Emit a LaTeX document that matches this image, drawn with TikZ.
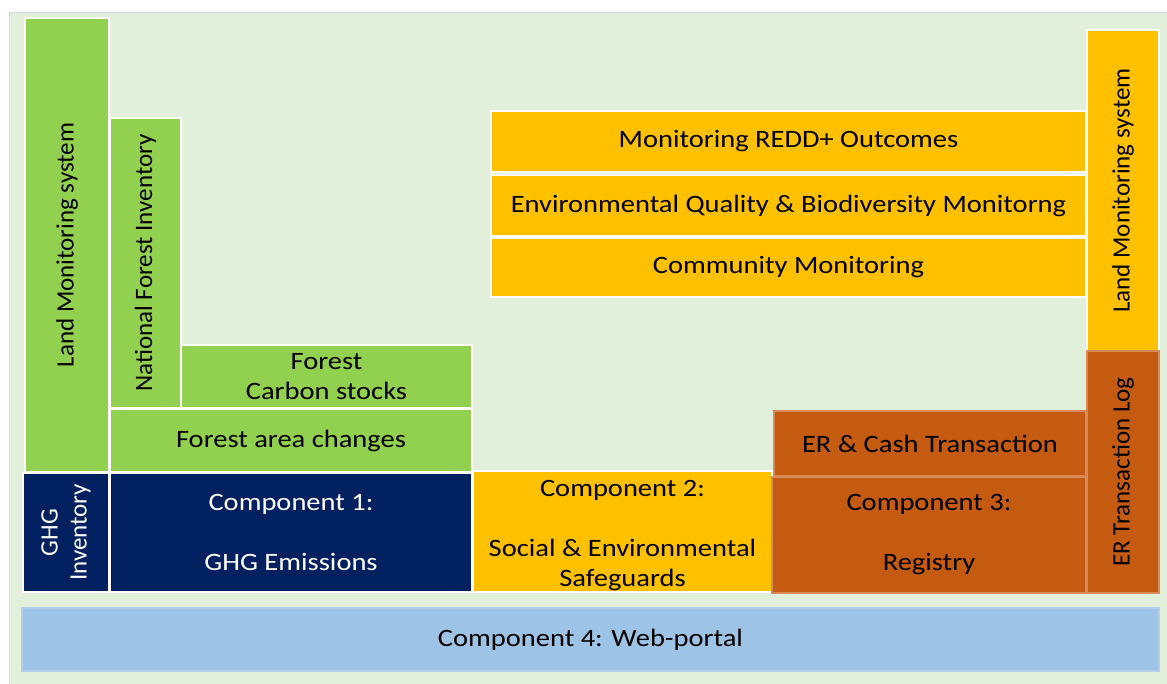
\documentclass[tikz,border=0pt]{standalone}
\usepackage{fontspec}
\setmainfont{Carlito}[FakeStretch=1.14]
\newfontfamily\vertfont{Carlito}
\usetikzlibrary{positioning}
\definecolor{mrvBg}{HTML}{E2EFDA}
\definecolor{mrvGreen}{HTML}{92D050}
\definecolor{mrvNavy}{HTML}{002060}
\definecolor{mrvYellow}{HTML}{FFC000}
\definecolor{mrvOrange}{HTML}{C55A11}
\definecolor{mrvBlue}{HTML}{9DC3E6}
\tikzset{
  boxBase/.style={rectangle, draw=white, line width=1.2pt, align=center,
                  inner sep=0pt, font=\fontsize{25}{30}\selectfont},
  vertText/.style={rotate=90, font=\vertfont\fontsize{25}{29}\selectfont},
  boxGreen/.style={boxBase, fill=mrvGreen, text=black},
  boxNavy/.style={boxBase, fill=mrvNavy, text=white},
  boxYellow/.style={boxBase, fill=mrvYellow, text=black},
  boxOrange/.style={boxBase, fill=mrvOrange, text=black, draw=mrvOrange!70!white},
  boxBlue/.style={boxBase, fill=mrvBlue, text=black, draw=mrvBlue!80!white},
}
\begin{document}
\begin{tikzpicture}[x=1pt, y=-1pt]
  \useasboundingbox (0,0) rectangle (1167,684);
  % panel
  \fill[white] (0,0) rectangle (1167,684);
  \draw[fill=mrvBg, draw=black!15] (9,12) rectangle (1172,690);

  % component 1 column
  \node[boxGreen, vertText, minimum width=454pt, minimum height=84pt] (lmsL) at (67,245) {Land Monitoring system};
  \node[boxGreen, vertText, minimum width=290pt, minimum height=71pt] (nfi) at (145.5,263) {National Forest Inventory};
  \node[boxGreen, minimum width=291pt, minimum height=63pt] (carbon) at (326.5,376.5) {Forest\\Carbon stocks};
  \node[boxGreen, minimum width=362pt, minimum height=63pt] (area) at (291,440.5) {Forest area changes};
  \node[boxNavy, vertText, minimum width=119pt, minimum height=86pt] (ghgInv) at (66,532.5) {GHG\\Inventory};
  \node[boxNavy, minimum width=362pt, minimum height=119pt] (comp1) at (291,532.5) {Component 1:\\[30pt]GHG Emissions};

  % component 2 column
  \node[boxYellow, minimum width=595pt, minimum height=61pt] (redd) at (788.5,141.5) {Monitoring REDD+ Outcomes};
  \node[boxYellow, minimum width=595pt, minimum height=61pt] (envq) at (788.5,205.5) {Environmental Quality \& Biodiversity Monitorng};
  \node[boxYellow, minimum width=595pt, minimum height=59pt] (comm) at (788.5,267.5) {Community Monitoring};
  \node[boxYellow, minimum width=299pt, minimum height=121pt] (comp2) at (622.5,531.5) {\mbox{}\\[-6pt]Component 2:\\[30pt]Social \& Environmental\\Safeguards};

  % component 3 column
  \node[boxOrange, minimum width=312pt, minimum height=65pt] (cash) at (930,443.5) {ER \& Cash Transaction};
  \node[boxOrange, minimum width=314pt, minimum height=116pt] (comp3) at (929,535) {Component 3:\\[30pt]Registry};
  \node[boxYellow, vertText, minimum width=321pt, minimum height=72pt] (lmsR) at (1123,190.5) {Land Monitoring system};
  \node[boxOrange, vertText, minimum width=242pt, minimum height=72pt] (erLog) at (1123,472) {ER Transaction Log};

  % component 4
  \node[boxBlue, minimum width=1137pt, minimum height=63pt] (portal) at (590.5,639.5) {Component 4: Web-portal};
\end{tikzpicture}
\end{document}
